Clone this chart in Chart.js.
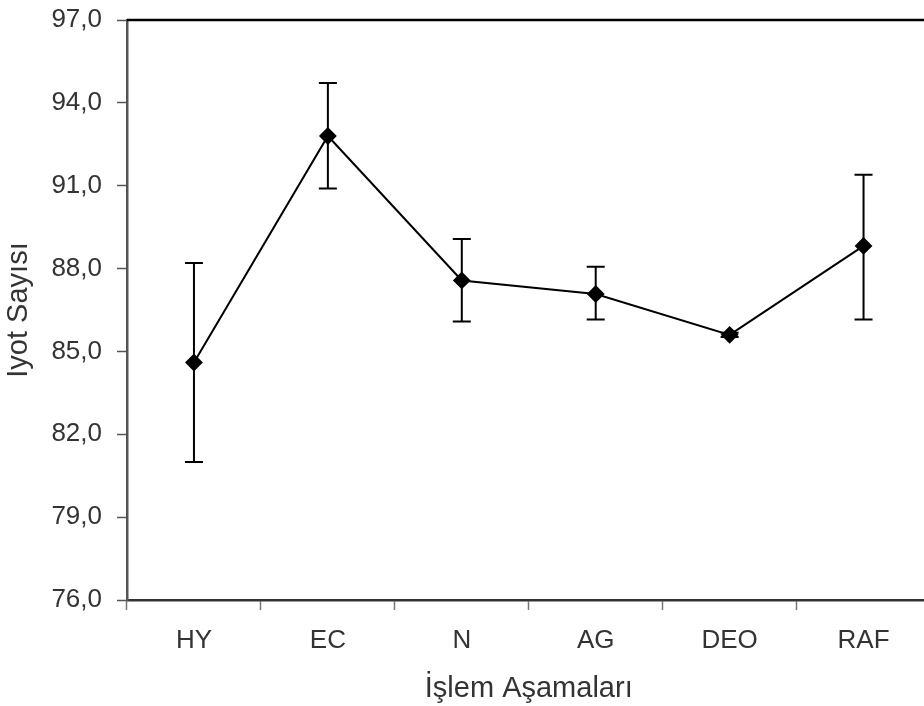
<!DOCTYPE html>
<html>
<head>
<meta charset="utf-8">
<script src="https://cdn.jsdelivr.net/npm/chart.js@4"></script>
<style>
  html, body { margin: 0; padding: 0; background: #fff; overflow: hidden; }
  #wrap { width: 940px; height: 706px; }
</style>
</head>
<body>
<div id="wrap"><canvas id="c" width="940" height="706"></canvas></div>
<script>
const categories = ['HY', 'EC', 'N', 'AG', 'DEO', 'RAF'];
const means = [84.6, 92.8, 87.57, 87.08, 85.6, 88.82];
const upper = [88.2, 94.72, 89.07, 88.07, 85.68, 91.4];
const lower = [81.0, 90.9, 86.08, 86.16, 85.52, 86.16];
const yTicks = [76, 79, 82, 85, 88, 91, 94, 97];
const xTitle = 'İşlem Aşamaları';
const yTitle = 'Iyot Sayısı';

const errorBars = {
  id: 'errorBars',
  beforeDatasetsDraw(chart) {
    const ctx = chart.ctx;
    const xs = chart.scales.x, ys = chart.scales.y;
    ctx.save();
    ctx.strokeStyle = '#000';
    ctx.lineWidth = 2;
    categories.forEach((c, i) => {
      const x = xs.getPixelForValue(i);
      const yu = ys.getPixelForValue(upper[i]);
      const yl = ys.getPixelForValue(lower[i]);
      ctx.beginPath();
      ctx.moveTo(x, yu); ctx.lineTo(x, yl);
      ctx.moveTo(x - 9, yu); ctx.lineTo(x + 9, yu);
      ctx.moveTo(x - 9, yl); ctx.lineTo(x + 9, yl);
      ctx.stroke();
    });
    ctx.restore();
  }
};

const frame = {
  id: 'frame',
  afterDraw(chart) {
    const {ctx, chartArea: a} = chart;
    ctx.save();
    ctx.strokeStyle = '#000';
    ctx.lineWidth = 2.5;
    ctx.beginPath();
    ctx.moveTo(a.left, a.top);
    ctx.lineTo(a.right, a.top);
    ctx.lineTo(a.right, a.bottom);
    ctx.stroke();
    ctx.restore();
  }
};

new Chart(document.getElementById('c'), {
  type: 'line',
  data: {
    labels: categories,
    datasets: [{
      data: means,
      borderColor: '#000',
      borderWidth: 2,
      backgroundColor: '#000',
      pointStyle: 'rectRot',
      pointRadius: 7.5,
      pointBackgroundColor: '#000',
      pointBorderColor: '#000',
      tension: 0
    }]
  },
  options: {
    responsive: false,
    animation: false,
    events: [],
    layout: { padding: { top: 20, right: 6, left: 0, bottom: 0 } },
    plugins: { legend: { display: false }, tooltip: { enabled: false } },
    scales: {
      x: {
        offset: true,
        grid: { offset: true, drawOnChartArea: false, drawTicks: true, tickLength: 10, tickColor: '#777', tickWidth: 1.5 },
        border: { display: true, color: '#333', width: 2.5 },
        ticks: { color: '#333', padding: 15, font: { family: 'Liberation Sans, Arial, sans-serif', size: 26 } },
        title: { display: true, text: xTitle, color: '#333', padding: { top: 0, bottom: 0 }, font: { family: 'Liberation Sans, Arial, sans-serif', size: 29 } },
        afterFit: s => { s.height = 106; s.paddingLeft = 0; s.paddingRight = 0; }
      },
      y: {
        min: 76, max: 97,
        afterBuildTicks: s => { s.ticks = yTicks.map(v => ({ value: v })); },
        grid: { drawOnChartArea: false, drawTicks: true, tickLength: 10, tickColor: '#555', tickWidth: 1.5 },
        border: { display: true, color: '#555', width: 2.5 },
        ticks: { color: '#333', padding: 15, font: { family: 'Liberation Sans, Arial, sans-serif', size: 26 },
                 callback: v => v.toFixed(1).replace('.', ',') },
        title: { display: true, text: yTitle, color: '#333', padding: { top: 2, bottom: 0 }, font: { family: 'Liberation Sans, Arial, sans-serif', size: 29 } },
        afterFit: s => { s.width = 127; s.paddingTop = 0; s.paddingBottom = 0; }
      }
    }
  },
  plugins: [errorBars, frame]
});
</script>
</body>
</html>
